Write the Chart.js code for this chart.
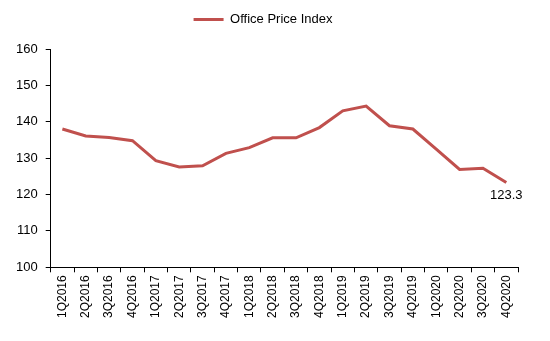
<!DOCTYPE html>
<html>
<head>
<meta charset="utf-8">
<script src="https://cdn.jsdelivr.net/npm/chart.js@4/dist/chart.umd.min.js"></script>
<style>
  html, body { margin: 0; padding: 0; background: #fff; }
  #wrap { width: 550px; height: 341px; }
</style>
</head>
<body>
<div id="wrap"><canvas id="chart" width="550" height="341"></canvas></div>
<script>
var quarters = ['1Q2016', '2Q2016', '3Q2016', '4Q2016', '1Q2017', '2Q2017', '3Q2017', '4Q2017',
    '1Q2018', '2Q2018', '3Q2018', '4Q2018', '1Q2019', '2Q2019', '3Q2019', '4Q2019',
    '1Q2020', '2Q2020', '3Q2020', '4Q2020'];
var priceIndex = [138.0, 136.1, 135.7, 134.8, 129.3, 127.6, 127.9, 131.3,
    132.9, 135.6, 135.6, 138.4, 143.0, 144.3, 138.9, 138.0,
    132.5, 126.9, 127.2, 123.3];
var yTicks = [100, 110, 120, 130, 140, 150, 160];

var font = 'Arial, "Liberation Sans", sans-serif';

// label only the last point, under the line
var lastLabel = {
    id: 'lastLabel',
    afterDatasetsDraw: function (chart) {
        var meta = chart.getDatasetMeta(0);
        var i = priceIndex.length - 1;
        var pt = meta.data[i];
        var ctx = chart.ctx;
        ctx.save();
        ctx.font = '13px ' + font;
        ctx.fillStyle = '#000';
        ctx.textAlign = 'center';
        ctx.textBaseline = 'top';
        ctx.fillText(priceIndex[i].toFixed(1), pt.x, pt.y + 6);
        ctx.restore();
    }
};

// extra room under the legend
var legendGap = {
    id: 'legendGap',
    beforeInit: function (chart) {
        var fit = chart.legend.fit;
        chart.legend.fit = function () {
            fit.bind(chart.legend)();
            this.height += 13;
        };
    }
};

new Chart(document.getElementById('chart').getContext('2d'), {
    type: 'line',
    data: {
        labels: quarters,
        datasets: [{
            label: 'Office Price Index',
            data: priceIndex,
            borderColor: '#C0504D',
            backgroundColor: '#C0504D',
            borderWidth: 3,
            pointRadius: 0,
            tension: 0,
            fill: false
        }]
    },
    options: {
        responsive: false,
        animation: false,
        layout: { padding: { left: 8, right: 32, top: 0, bottom: 20 } },
        plugins: {
            legend: {
                position: 'top',
                labels: {
                    usePointStyle: true,
                    pointStyle: 'line',
                    pointStyleWidth: 30,
                    color: '#000',
                    font: { family: font, size: 13 },
                    padding: 13
                }
            },
            tooltip: { enabled: false }
        },
        scales: {
            x: {
                offset: true,
                grid: { offset: true, drawOnChartArea: false, drawTicks: true, tickLength: 5, color: '#000' },
                border: { color: '#000', width: 1 },
                ticks: {
                    color: '#000',
                    font: { family: font, size: 12 },
                    maxRotation: 90,
                    minRotation: 90,
                    autoSkip: false,
                    padding: 3
                }
            },
            y: {
                min: 100,
                max: 160,
                afterBuildTicks: function (axis) {
                    axis.ticks = yTicks.map(function (v) { return { value: v }; });
                },
                grid: { drawOnChartArea: false, drawTicks: true, tickLength: 5, color: '#000' },
                border: { color: '#000', width: 1 },
                ticks: {
                    color: '#000',
                    font: { family: font, size: 13 },
                    padding: 8
                }
            }
        }
    },
    plugins: [lastLabel, legendGap]
});
</script>
</body>
</html>
